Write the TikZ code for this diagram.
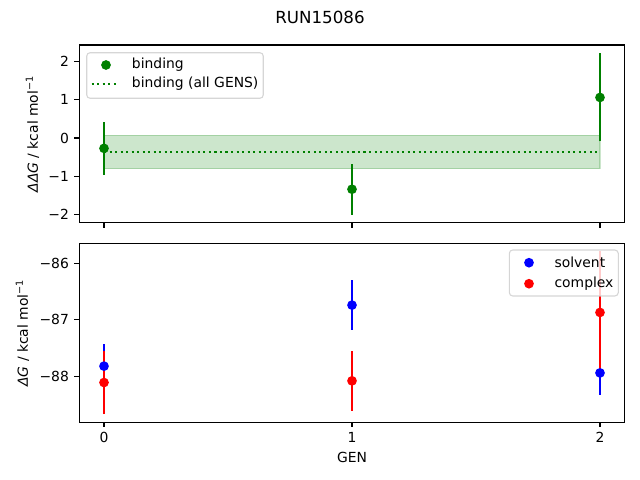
\documentclass[tikz,border=0pt]{standalone}
\usepackage{fontspec}
\setmainfont{DejaVu Sans}
\definecolor{mplgreen}{HTML}{008000}
\definecolor{mplblue}{HTML}{0000FF}
\definecolor{mplred}{HTML}{FF0000}
\definecolor{legendedge}{HTML}{CCCCCC}

\begin{document}
\begin{tikzpicture}[x=0.72pt, y=-0.72pt,
    spine/.style={line width=0.8pt},
    tickmark/.style={line width=0.8pt},
    ticklabel/.style={font=\fontsize{10}{12}\selectfont, inner sep=0pt},
    errbar/.style={line width=1.5pt},
    legendbox/.style={draw=legendedge, fill=white, fill opacity=0.8, draw opacity=0.8,
      rounded corners=2.5pt, line width=0.8pt},
    legendtext/.style={font=\fontsize{10}{12}\selectfont, inner sep=0pt, anchor=west}]
  \useasboundingbox (0,0) rectangle (640,480);
  \node[font=\fontsize{12}{14}\selectfont] (title) at (320,17) {RUN15086};

  \begin{scope}[shift={(104,138)}, x=178.56pt, y=27.54pt]
    \fill[mplgreen, opacity=0.2] (0,-0.80) rectangle (2,0.07);
    \draw[mplgreen, opacity=0.2, line width=1pt] (0,-0.80) rectangle (2,0.07);
    \draw[mplgreen, line width=1.5pt, dash pattern=on 1.5pt off 2.475pt] (0,-0.36) -- (2,-0.36);
    \foreach \g/\v/\e in {0/-0.27/0.69, 1/-1.34/0.67, 2/1.06/1.15}
      \draw[errbar, mplgreen] (\g,{\v-\e}) -- (\g,{\v+\e});
    \foreach \g/\v/\e in {0/-0.27/0.69, 1/-1.34/0.67, 2/1.06/1.15}
      \fill[mplgreen] (\g,\v) circle[radius=3.5pt];
    \draw[spine] (-0.1,-2.22) rectangle (2.1,2.43);
    \foreach \k/\lab in {-2/−2, -1/−1, 0/0, 1/1, 2/2}
      \draw[tickmark] (-0.1,\k) -- ++(-3.5pt,0) node[ticklabel, left=3.5pt] (ytop\k) {\lab};
    \foreach \g in {0,1,2}
      \draw[tickmark] (\g,-2.22) -- ++(0,-3.5pt);
  \end{scope}
  \node[font=\fontsize{10}{12}\selectfont, rotate=90] (ylabtop) at (32.5,134)
    {\textit{ΔΔG} / kcal mol\textsuperscript{−1}};

  \draw[legendbox] (86.7,52.7) rectangle (263.3,98.3);
  \fill[mplgreen] (106,65) circle[radius=3.5pt];
  \draw[mplgreen, line width=1.5pt, dash pattern=on 1.5pt off 2.475pt] (91.7,83.7) -- (119.3,83.7);
  \node[legendtext] (legbind) at (131.7,65) {binding};
  \node[legendtext] (legall) at (131.7,83.7) {binding (all GENS)};

  \begin{scope}[shift={(104,263.3)}, x=178.56pt, y=40.68pt]
    \begin{scope}[shift={(0,86)}]
      \foreach \g/\v/\e in {0/-87.82/0.39, 1/-86.74/0.44, 2/-87.94/0.39}
        \draw[errbar, mplblue] (\g,{\v-\e}) -- (\g,{\v+\e});
      \foreach \g/\v/\e in {0/-88.11/0.56, 1/-88.08/0.53, 2/-86.87/1.08}
        \draw[errbar, mplred] (\g,{\v-\e}) -- (\g,{\v+\e});
      \foreach \g/\v in {0/-87.82, 1/-86.74, 2/-87.94}
        \fill[mplblue] (\g,\v) circle[radius=3.5pt];
      \foreach \g/\v in {0/-88.11, 1/-88.08, 2/-86.87}
        \fill[mplred] (\g,\v) circle[radius=3.5pt];
      \draw[spine] (-0.1,-88.81) rectangle (2.1,-85.65);
      \foreach \m in {86,87,88}
        \draw[tickmark] (-0.1,-\m) -- ++(-3.5pt,0) node[ticklabel, left=3.5pt] (ybot\m) {−\m};
      \foreach \g in {0,1,2}
        \draw[tickmark] (\g,-88.81) -- ++(0,-3.5pt) node[ticklabel, below=3.5pt] (xbot\g) {\g};
    \end{scope}
  \end{scope}
  \node[font=\fontsize{10}{12}\selectfont, rotate=90] (ylabbot) at (22.5,333)
    {\textit{ΔG} / kcal mol\textsuperscript{−1}};
  \node[font=\fontsize{10}{12}\selectfont] (xlab) at (352,457) {GEN};

  \draw[legendbox] (509.3,250) rectangle (618.3,296);
  \fill[mplblue] (529,262.7) circle[radius=3.5pt];
  \fill[mplred] (529,283.7) circle[radius=3.5pt];
  \node[legendtext] (legsolv) at (554.3,262.7) {solvent};
  \node[legendtext] (legcomp) at (554.3,283.7) {complex};
\end{tikzpicture}
\end{document}
